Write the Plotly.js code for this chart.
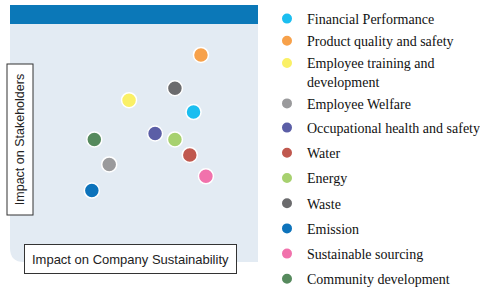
<!DOCTYPE html>
<html><head><meta charset="utf-8">
<script src="https://cdn.plot.ly/plotly-3.0.1.min.js"></script>
<style>html,body{margin:0;padding:0;background:#fff}#c{width:480px;height:288px}</style>
</head><body><div id="c"></div>
<script>
const topics = ["Financial Performance","Product quality and safety","Employee training and<br>development","Employee Welfare","Occupational health and safety","Water","Energy","Waste","Emission","Sustainable sourcing","Community development"];
const companyImpact = [7.4, 7.7, 4.8, 4.0, 5.85, 7.25, 6.65, 6.65, 3.3, 7.9, 3.4];
const stakeholderImpact = [6.3, 8.7, 6.8, 4.1, 5.4, 4.5, 5.15, 7.3, 3.0, 3.6, 5.15];
const colors = ["#1BBEF0","#F7A14A","#FAF066","#9A9A9C","#5B5EA6","#C0584E","#A7D16F","#6B6B6D","#0D73BB","#F172AC","#568A5D"];

const traces = topics.map((t,i)=>({
  type:"scatter", mode:"markers", name:t, legendgroup:"g"+i,
  legend: i < 4 ? "legend" : "legend2",
  x:[companyImpact[i]], y:[stakeholderImpact[i]],
  marker:{size:15, color:colors[i], line:{color:"#ffffff", width:1.5}}
}));

const legFont = {family:"Liberation Serif", size:14, color:"#111"};
const rx = 14/248, ry = 14/238;
const layout = {
  width:480, height:288,
  margin:{l:10, r:222, t:24, b:26, autoexpand:false},
  paper_bgcolor:"#ffffff", plot_bgcolor:"rgba(0,0,0,0)",
  xaxis:{range:[0,10], showgrid:false, zeroline:false, showticklabels:false, ticks:"", showline:false},
  yaxis:{range:[0,10], showgrid:false, zeroline:false, showticklabels:false, ticks:"", showline:false},
  showlegend:true,
  legend:{x:(267-10)/248, y:(262-3)/238, xanchor:"left", yanchor:"top", bgcolor:"rgba(0,0,0,0)", maxheight:1,
    font:legFont, tracegroupgap:1, itemsizing:"constant", valign:"top"},
  legend2:{x:(267-10)/248, y:(262-112)/238, xanchor:"left", yanchor:"top", bgcolor:"rgba(0,0,0,0)", maxheight:1,
    font:legFont, tracegroupgap:4, itemsizing:"constant", valign:"top"},
  shapes:[
    {type:"path", xref:"paper", yref:"paper", layer:"below",
     path:`M ${rx},0 L 1,0 L 1,1 L 0,1 L 0,${ry} Q 0,0 ${rx},0 Z`,
     fillcolor:"#E3EBF3", line:{width:0}},
    {type:"rect", xref:"paper", yref:"paper", layer:"below",
     x0:0, x1:1, y0:1, y1:1+19/238, fillcolor:"#0B78B8", line:{width:0}}
  ],
  annotations:[
    {xref:"paper", yref:"paper", x:(130-10)/248, y:(262-259)/238, xanchor:"center", yanchor:"middle",
     text:"Impact on Company Sustainability", showarrow:false, width:209, height:26,
     bgcolor:"#ffffff", bordercolor:"#333333", borderwidth:1, borderpad:1,
     font:{family:"Liberation Sans", size:13, color:"#222"}},
    {xref:"paper", yref:"paper", x:(19.5-10)/248, y:(262-140)/238, xanchor:"center", yanchor:"middle",
     text:"Impact on Stakeholders", showarrow:false, textangle:-90, width:148, height:23,
     bgcolor:"#ffffff", bordercolor:"#333333", borderwidth:1, borderpad:1,
     font:{family:"Liberation Sans", size:12.5, color:"#222"}}
  ]
};
Plotly.newPlot("c", traces, layout, {staticPlot:true, displayModeBar:false});
</script></body></html>
